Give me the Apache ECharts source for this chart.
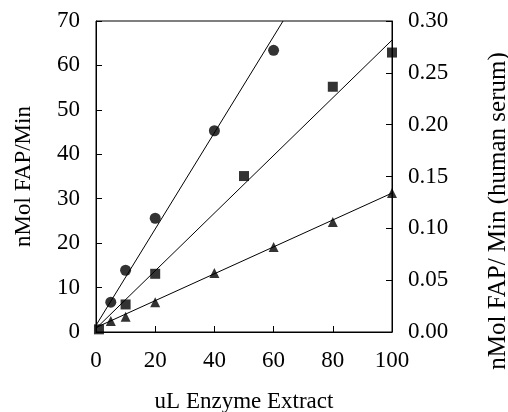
<!DOCTYPE html>
<html>
<head>
<meta charset="utf-8">
<script src="https://cdn.jsdelivr.net/npm/echarts@6/dist/echarts.min.js"></script>
<style>html,body{margin:0;padding:0;background:#fff}#c{width:508px;height:412px}</style>
</head>
<body>
<div id="c"></div>
<script>
var xTicks = [0, 20, 40, 60, 80, 100];
var leftTicks = [0, 10, 20, 30, 40, 50, 60, 70];
var rightTicks = [0.00, 0.05, 0.10, 0.15, 0.20, 0.25, 0.30];

var circleX = [5, 10, 20, 40, 60];
var circleY = [6.7, 13.9, 25.6, 45.3, 63.4];
var squareX = [1, 10, 20, 50, 80, 100];
var squareY = [0.6, 6.2, 13.1, 35.1, 55.2, 62.9];
var triangleX = [5, 10, 20, 40, 60, 80, 100];
var triangleY = [0.0107, 0.0146, 0.0287, 0.057, 0.082, 0.106, 0.134]; // right axis

var circleFitX = [0, 63.2];
var circleFitY = [1.5, 70];
var squareFitX = [0, 100];
var squareFitY = [0.8, 65.7];
var triangleFitX = [0, 100];
var triangleFitY = [0.0043, 0.134];

function zip(a, b) { return a.map(function (v, i) { return [v, b[i]]; }); }

var FONT = 'Liberation Serif';
var chart = echarts.init(document.getElementById('c'));
var axisLine = { show: true, lineStyle: { color: '#000', width: 1 } };
var tick = { show: true, inside: true, length: 6, lineStyle: { color: '#000', width: 1 } };
var lbl = { color: '#000', fontFamily: FONT, fontSize: 23 };

chart.setOption({
  animation: false,
  backgroundColor: '#fff',
  grid: { left: 96, right: 116, top: 21, bottom: 80, containLabel: false, outerBoundsMode: 'none', show: true, borderColor: '#000', borderWidth: 1, backgroundColor: 'transparent' },
  xAxis: {
    type: 'value', min: xTicks[0], max: xTicks[xTicks.length - 1], interval: 20,
    axisLine: axisLine, axisTick: tick, splitLine: { show: false },
    axisLabel: Object.assign({ margin: 17, showMinLabel: true, showMaxLabel: true }, lbl),
    name: 'uL Enzyme Extract', nameLocation: 'middle', nameGap: 58,
    nameTextStyle: { color: '#000', fontFamily: FONT, fontSize: 23 }
  },
  yAxis: [{
    type: 'value', min: leftTicks[0], max: leftTicks[leftTicks.length - 1], interval: 10,
    position: 'left',
    axisLine: axisLine, axisTick: tick, splitLine: { show: false },
    axisLabel: Object.assign({ margin: 16 }, lbl),
    name: 'nMol FAP/Min', nameLocation: 'middle', nameGap: 61, nameRotate: 90,
    nameTextStyle: { color: '#000', fontFamily: FONT, fontSize: 23 }
  }, {
    type: 'value', min: rightTicks[0], max: rightTicks[rightTicks.length - 1], interval: 0.05,
    position: 'right',
    axisLine: axisLine, axisTick: tick, splitLine: { show: false },
    axisLabel: Object.assign({ margin: 16, formatter: function (v) { return v.toFixed(2); } }, lbl)
  }],
  graphic: [{
    type: 'text', x: 498, y: 211, rotation: Math.PI / 2,
    style: { text: 'nMol FAP/ Min (human serum)', font: '25px "Liberation Serif"', fill: '#000', align: 'center', verticalAlign: 'middle' }
  }],
  series: [
    { type: 'line', data: zip(circleFitX, circleFitY), symbol: 'none', lineStyle: { color: '#000', width: 1 }, clip: true, silent: true },
    { type: 'line', data: zip(squareFitX, squareFitY), symbol: 'none', lineStyle: { color: '#000', width: 1 }, clip: true, silent: true },
    { type: 'line', data: zip(triangleFitX, triangleFitY), yAxisIndex: 1, symbol: 'none', lineStyle: { color: '#000', width: 1 }, clip: true, silent: true },
    { type: 'scatter', data: zip(circleX, circleY), symbol: 'circle', symbolSize: 11, itemStyle: { color: '#000' }, clip: false },
    { type: 'scatter', data: zip(squareX, squareY), symbol: 'rect', symbolSize: 10, itemStyle: { color: '#000' }, clip: false },
    { type: 'scatter', data: zip(triangleX, triangleY), yAxisIndex: 1, symbol: 'triangle', symbolSize: 10, itemStyle: { color: '#000' }, clip: false }
  ]
});
</script>
</body>
</html>
